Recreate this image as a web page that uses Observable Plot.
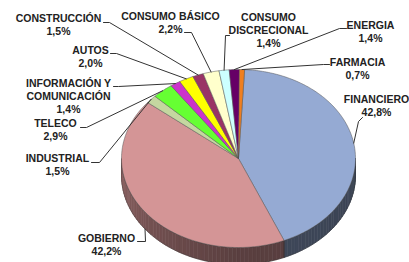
<!DOCTYPE html>
<html><head><meta charset="utf-8">
<script src="https://cdn.jsdelivr.net/npm/d3@7"></script>
<script src="https://cdn.jsdelivr.net/npm/@observablehq/plot@0.6"></script>
<style>body{margin:0;background:#fff} #chart svg{display:block}</style>
</head><body><div id="chart"></div>
<script>
// ---- data ----
const categories = ["FINANCIERO", "GOBIERNO", "INDUSTRIAL", "TELECO", "INFORMACIÓN Y\nCOMUNICACIÓN", "AUTOS", "CONSTRUCCIÓN", "CONSUMO BÁSICO", "CONSUMO\nDISCRECIONAL", "ENERGIA", "FARMACIA"];
const values = [42.8, 42.2, 1.5, 2.9, 1.4, 2.0, 1.5, 2.2, 1.4, 1.4, 0.7];
const colors = ["#95aad3", "#d49596", "#c4d7a0", "#66ff33", "#cc33cc", "#ffff00", "#993366", "#ffffcc", "#ccffff", "#660066", "#f07f1f"];

// ---- layout ----
const W = 409, H = 262;
const CX = 238, CY = 158, RX = 117, RY = 89, DEPTH = 17, START = 3;
const labelLayout = [
  {tx: 376, ty: 99,  lead: [[362, 117], [358, 121]]},
  {tx: 106, ty: 238, lead: [[137, 241], [145, 241]]},
  {tx: 57,  ty: 158, lead: [[91, 162], [99, 162]]},
  {tx: 55,  ty: 123, lead: [[80, 127], [86, 127]]},
  {tx: 68,  ty: 83,  lead: [[113, 86], [118, 86]]},
  {tx: 90,  ty: 50,  lead: [[110, 53], [116, 53]]},
  {tx: 58,  ty: 18,  lead: [[103, 22], [109, 22]]},
  {tx: 170, ty: 16,  lead: [[184, 32], [191, 32]]},
  {tx: 268, ty: 17,  lead: [[229, 35], [225, 35]]},
  {tx: 370, ty: 25,  lead: [[346, 28], [339, 28]]},
  {tx: 357, ty: 62,  lead: [[329, 64], [323, 64]]}
];

const rad = Math.PI / 180;
const pt = (a, dz = 0) => [CX + RX * Math.sin(a), CY - RY * Math.cos(a) + dz];
const arcs = d3.pie().sort(null).value(d => d)
  .startAngle(START * rad).endAngle((START + 360) * rad)(values);

// top faces
const tops = [];
arcs.forEach((a, i) => {
  const n = Math.max(2, Math.ceil((a.endAngle - a.startAngle) / (1 * rad)));
  tops.push({x: CX, y: CY, k: i, fill: colors[i]});
  for (let j = 0; j <= n; j++) {
    const t = a.startAngle + (a.endAngle - a.startAngle) * j / n;
    const [x, y] = pt(t);
    tops.push({x, y, k: i, fill: colors[i]});
  }
  tops.push({x: CX, y: CY, k: i, fill: colors[i]});
});

// side walls (visible lower half: 90..270 degrees)
const sides = [], sideOutline = [];
const norm = a => { let d = a / rad % 360; if (d < 0) d += 360; return d; };
arcs.forEach((a, i) => {
  const s = Math.max(a.startAngle, 90 * rad), e = Math.min(a.endAngle, 270 * rad);
  if (e <= s) return;
  const step = 2 * rad;
  const n = Math.ceil((e - s) / step);
  const ol = [];
  for (let j = 0; j < n; j++) {
    const t0 = s + (e - s) * j / n, t1 = s + (e - s) * (j + 1) / n;
    const deg = ((t0 + t1) / 2) / rad;
    const k = deg > 180 ? 2.4 - 1.3 * (deg - 180) / 90 : 2.4 + 0.2 * (180 - deg) / 90;
    const c = d3.color(colors[i]).darker(k).formatHex();
    const key = i + "-" + j;
    const p = [pt(t0), pt(t1), pt(t1, DEPTH), pt(t0, DEPTH), pt(t0)];
    p.forEach(([x, y]) => sides.push({x, y, k: key, fill: c}));
  }
  for (let j = 0; j <= n; j++) ol.push(pt(s + (e - s) * j / n));
  for (let j = n; j >= 0; j--) ol.push(pt(s + (e - s) * j / n, DEPTH));
  ol.push(ol[0]);
  ol.forEach(([x, y]) => sideOutline.push({x, y, k: i}));
});

// leaders
const leaders = [];
arcs.forEach((a, i) => {
  const m = (a.startAngle + a.endAngle) / 2;
  const d = norm(m);
  const end = pt(m, d > 90 && d < 270 ? DEPTH : 0);
  const L = labelLayout[i];
  [...L.lead, end].forEach(([x, y]) => leaders.push({x, y, k: i}));
});

const labels = categories.map((c, i) => ({
  x: labelLayout[i].tx,
  y: labelLayout[i].ty - 5,
  text: c + "\n" + values[i].toFixed(1).replace(".", ",") + "%"
}));

const chart = Plot.plot({
  width: W, height: H,
  margin: 0,
  x: {domain: [0, W], range: [0, W], axis: null},
  y: {domain: [0, H], range: [0, H], axis: null},
  color: {type: "identity"},
  style: {background: "#fff", overflow: "visible"},
  marks: [
    Plot.line(sides, {x: "x", y: "y", z: "k", fill: "fill", stroke: "fill", strokeWidth: 0.6, curve: "linear"}),
    Plot.line(sideOutline, {x: "x", y: "y", z: "k", stroke: "#2a2a2a", strokeWidth: 0.5, strokeOpacity: 0.7, curve: "linear"}),
    Plot.line(tops, {x: "x", y: "y", z: "k", fill: "fill", stroke: "#555", strokeWidth: 0.5, curve: "linear"}),
    Plot.line(leaders, {x: "x", y: "y", z: "k", stroke: "#333", strokeWidth: 1, curve: "linear"}),
    Plot.text(labels, {x: "x", y: "y", text: "text", textAnchor: "middle", lineAnchor: "top", lineHeight: 1.2,
      fontSize: 10.5, fontWeight: "bold", fill: "#222", fontFamily: "Liberation Sans, Arial, sans-serif"})
  ]
});
document.getElementById("chart").appendChild(chart);
</script>
</body></html>
